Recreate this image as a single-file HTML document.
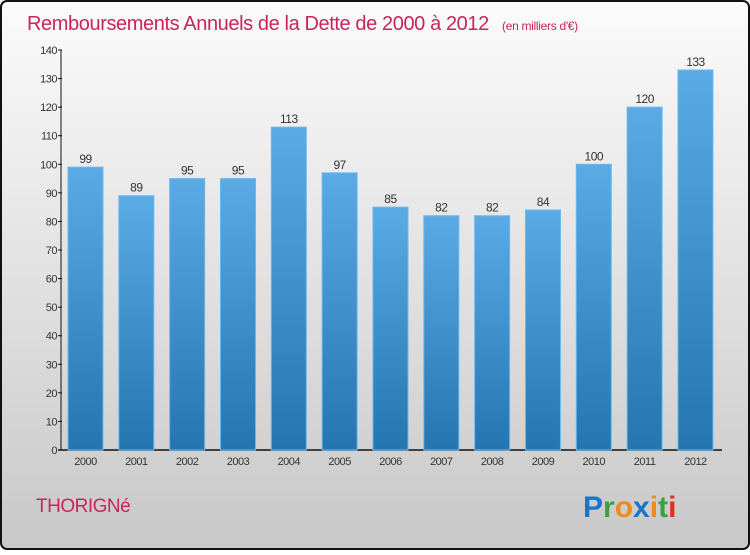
<!DOCTYPE html>
<html><head><meta charset="utf-8"><style>
body{margin:0;width:750px;height:550px;overflow:hidden;font-family:"Liberation Sans",sans-serif}
</style></head><body>
<svg width="750" height="550" xmlns="http://www.w3.org/2000/svg">
<defs>
<linearGradient id="bg" x1="0" y1="0" x2="0" y2="1"><stop offset="0" stop-color="#fbfbfb"/><stop offset="1" stop-color="#c8c8c8"/></linearGradient>
<linearGradient id="bar" x1="0" y1="0" x2="0" y2="1"><stop offset="0" stop-color="#5aaae6"/><stop offset="1" stop-color="#2475b0"/></linearGradient>
</defs>
<rect x="1" y="1" width="748" height="548" rx="6" fill="url(#bg)" stroke="#111" stroke-width="2"/>
<text x="27" y="30" font-size="20" letter-spacing="-0.4" fill="#c8245e">Remboursements Annuels de la Dette de 2000 à 2012 <tspan font-size="12" dx="8" letter-spacing="-0.3">(en milliers d'€)</tspan></text>
<g id="axes"></g>
<g id="bars"></g>
<text x="36" y="512" font-size="19" letter-spacing="-0.5" fill="#c8245e">THORIGNé</text>
<g font-size="30" font-weight="bold" font-family="'Liberation Sans',sans-serif">
<text x="583" y="517" fill="#1a74c8">P<tspan fill="#3aa040">r</tspan><tspan fill="#f08a1a">o</tspan><tspan fill="#1a74c8">x</tspan><tspan fill="#f08a1a">i</tspan><tspan fill="#3aa040">t</tspan><tspan fill="#e03020">i</tspan></text>
</g>
</svg>
<script>
const categories=["2000","2001","2002","2003","2004","2005","2006","2007","2008","2009","2010","2011","2012"];
const values=[99,89,95,95,113,97,85,82,82,84,100,120,133];
const yTicks=[0,10,20,30,40,50,60,70,80,90,100,110,120,130,140];
const NS="http://www.w3.org/2000/svg";
const y0=450,yTop=50,yMax=140;
function y(v){return y0-(v/yMax)*(y0-yTop);}
function xc(i){return 85.5+i*50.83;}
function mk(t,a,p,txt){const e=document.createElementNS(NS,t);for(const k in a)e.setAttribute(k,a[k]);if(txt!==undefined)e.textContent=txt;p.appendChild(e);return e;}
const ax=document.getElementById('axes'),bg=document.getElementById('bars');
let l=mk('line',{x1:61,y1:y0,x2:61,y2:yTop,stroke:'#111','stroke-width':1},ax);


l=mk('line',{x1:58,y1:y0,x2:722,y2:y0,stroke:'#111','stroke-width':1.5},ax);


yTicks.forEach(v=>{
 const t=mk('line',{x1:58,y1:y(v),x2:62,y2:y(v),stroke:'#111'},ax);
 
 
 const tx=mk('text',{x:57,y:y(v)+4,'font-size':11,fill:'#333','text-anchor':'end','letter-spacing':'-0.5'},ax,String(v));
 
 
});
categories.forEach((c,i)=>{
 const r=mk('rect',{x:xc(i)-17.5,y:y(values[i]),width:35,height:y0-y(values[i]),fill:'url(#bar)',stroke:'#6bb8ee','stroke-width':1},bg);
 
 
 const v=mk('text',{x:xc(i),y:y(values[i])-4,'font-size':12,fill:'#333','text-anchor':'middle','letter-spacing':'-0.5'},bg,String(values[i]));
 
 
 const tx=mk('text',{x:xc(i),y:465,'font-size':11,fill:'#333','text-anchor':'middle','letter-spacing':'-0.5'},ax,c);
 
 
});
</script>
</body></html>
